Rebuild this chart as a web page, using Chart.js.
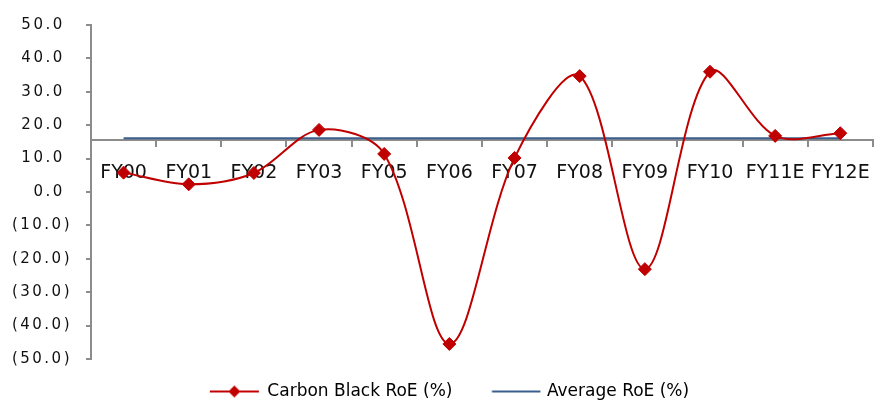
<!DOCTYPE html>
<html>
<head>
<meta charset="utf-8">
<script src="https://cdn.jsdelivr.net/npm/chart.js@4"></script>
<style>
  html, body { margin: 0; padding: 0; background: #ffffff; }
  canvas { display: block; }
</style>
</head>
<body>
<canvas id="roe" width="886" height="402"></canvas>
<script>
// Fiscal years on the category axis (no FY04 in the series)
const categories = ['FY00', 'FY01', 'FY02', 'FY03', 'FY05', 'FY06', 'FY07', 'FY08', 'FY09', 'FY10', 'FY11E', 'FY12E'];

// Return on equity of the carbon black business, in percent
const carbonBlackRoE = [5.8, 2.3, 5.7, 18.6, 11.4, -45.5, 10.2, 34.7, -23.1, 36.0, 16.8, 17.6];

// Average RoE reference line, in percent
const averageRoE = [16.1, 16.1, 16.1, 16.1, 16.1, 16.1, 16.1, 16.1, 16.1, 16.1, 16.1, 16.1];

// Value where the category axis crosses the value axis
const axisCrossing = 15.7;

// Value axis ticks and their accounting-style labels
const yTickValues = [50, 40, 30, 20, 10, 0, -10, -20, -30, -40, -50];
const yTickLabels = ['50.0', '40.0', '30.0', '20.0', '10.0', '0.0', '(10.0)', '(20.0)', '(30.0)', '(40.0)', '(50.0)'];

const seriesLabels = ['Carbon Black RoE (%)', 'Average RoE (%)'];

const RED = '#C00000';
const BLUE = '#3A5F8E';
const AXIS_GREY = '#8C8C8C';
const TEXT = '#111111';
const FONT = 'DejaVu Sans';
const Y_TICK_SPACING = '2.5px';

// Legend swatch: a short line (with an optional diamond) drawn into a small canvas,
// offsets are relative to the centre of the legend box.
function legendSwatch(color, from, to, marker) {
  const half = Math.ceil(Math.max(Math.abs(from), Math.abs(to))) + 8;
  const c = document.createElement('canvas');
  c.width = half * 2;
  c.height = 16;
  const g = c.getContext('2d');
  g.strokeStyle = color;
  g.lineWidth = 2;
  g.beginPath();
  g.moveTo(half + from, 8);
  g.lineTo(half + to, 8);
  g.stroke();
  if (marker) {
    const m = half + (from + to) / 2;
    g.fillStyle = color;
    g.beginPath();
    g.moveTo(m, 2);
    g.lineTo(m + 6, 8);
    g.lineTo(m, 14);
    g.lineTo(m - 6, 8);
    g.closePath();
    g.fill();
  }
  return c;
}

const swatches = [
  legendSwatch(RED, -18, 31, true),
  legendSwatch(BLUE, -15.5, 33, false)
];

// Wider letter spacing for the value axis tick labels
const yLabelSpacing = {
  id: 'yLabelSpacing',
  beforeDraw(chart) {
    const scale = chart.scales.y;
    if (!scale || scale._spacedLabels) return;
    const drawLabels = scale.drawLabels;
    scale.drawLabels = function (area) {
      const ctx = this.ctx;
      ctx.save();
      ctx.letterSpacing = Y_TICK_SPACING;
      drawLabels.call(this, area);
      ctx.restore();
    };
    scale._spacedLabels = true;
  }
};

new Chart(document.getElementById('roe'), {
  type: 'line',
  data: {
    labels: categories,
    datasets: [
      {
        label: seriesLabels[0],
        data: carbonBlackRoE,
        borderColor: RED,
        backgroundColor: RED,
        borderWidth: 2,
        tension: 0.33,
        pointStyle: 'rectRot',
        pointRadius: 6.5,
        pointBorderWidth: 1,
        pointBackgroundColor: RED,
        pointBorderColor: RED,
        fill: false
      },
      {
        label: seriesLabels[1],
        data: averageRoE,
        borderColor: BLUE,
        backgroundColor: BLUE,
        borderWidth: 2,
        tension: 0,
        pointRadius: 0,
        fill: false
      }
    ]
  },
  options: {
    responsive: false,
    animation: false,
    events: [],
    layout: { padding: { top: 25, right: 0, bottom: -8, left: 0 } },
    scales: {
      x: {
        type: 'category',
        offset: true,
        position: { y: axisCrossing },
        grid: {
          offset: true,
          drawOnChartArea: false,
          drawTicks: true,
          tickLength: 6,
          color: AXIS_GREY,
          lineWidth: 2
        },
        border: { display: true, color: AXIS_GREY, width: 2 },
        ticks: {
          color: TEXT,
          padding: 16,
          maxRotation: 0,
          minRotation: 0,
          autoSkip: false,
          font: { family: FONT, size: 19 }
        }
      },
      y: {
        type: 'linear',
        min: -50,
        max: 50,
        afterFit: scale => { scale.width = 91; },
        grid: {
          drawOnChartArea: false,
          drawTicks: true,
          tickLength: 5,
          color: AXIS_GREY,
          lineWidth: 2
        },
        border: { display: true, color: AXIS_GREY, width: 2 },
        ticks: {
          stepSize: 10,
          color: TEXT,
          padding: 14,
          font: { family: FONT, size: 15 },
          callback: value => {
            const i = yTickValues.indexOf(value);
            if (i < 0) return '';
            const label = yTickLabels[i];
            return label.endsWith(')') ? label : label + ' ';
          }
        }
      }
    },
    plugins: {
      tooltip: { enabled: false },
      title: { display: false },
      legend: {
        display: true,
        position: 'bottom',
        align: 'center',
        labels: {
          usePointStyle: true,
          pointStyleWidth: 62,
          padding: 24,
          color: TEXT,
          font: { family: FONT, size: 17 },
          generateLabels: chart => chart.data.datasets.map((ds, i) => ({
            text: ds.label,
            pointStyle: swatches[i],
            fillStyle: ds.borderColor,
            strokeStyle: ds.borderColor,
            lineWidth: 0,
            hidden: false,
            datasetIndex: i
          }))
        }
      }
    }
  },
  plugins: [yLabelSpacing]
});
</script>
</body>
</html>
